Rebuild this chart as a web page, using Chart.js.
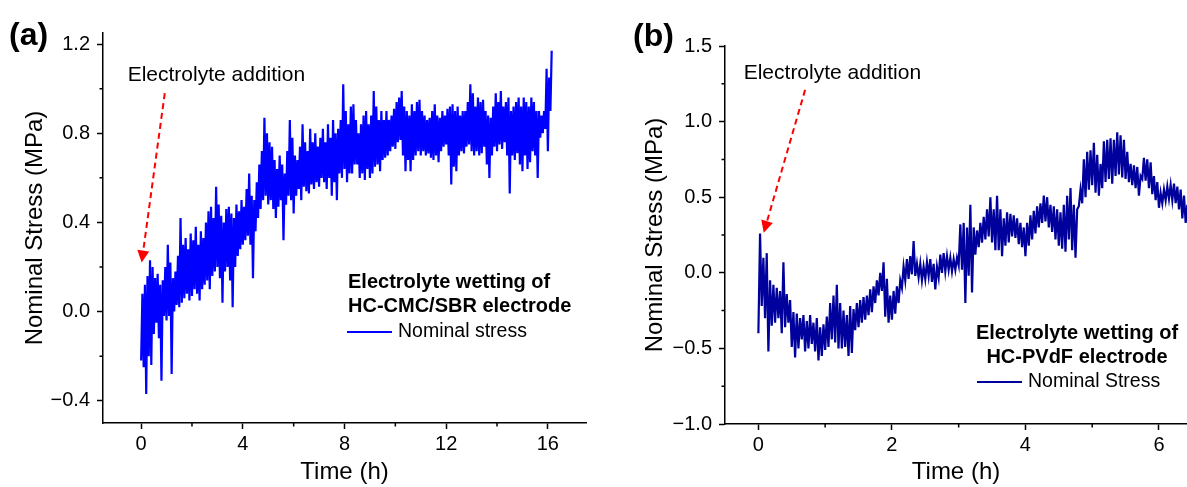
<!DOCTYPE html>
<html>
<head>
<meta charset="utf-8">
<script src="https://cdn.jsdelivr.net/npm/chart.js@4.4.1/dist/chart.umd.min.js"></script>
<style>
  html, body { margin: 0; padding: 0; background: #fff; }
  #wrap { position: relative; width: 1187px; height: 487px; overflow: hidden; }
  canvas { position: absolute; top: 0; }
  #chartA { left: 0; }
  #chartB { left: 590px; }
</style>
</head>
<body>
<div id="wrap">
  <canvas id="chartA" width="590" height="487"></canvas>
  <canvas id="chartB" width="597" height="487"></canvas>
</div>
<script>
// (a) HC-CMC/SBR: lowest / highest stress seen in each 0.1 h slot, from 0 h
const stepA = 0.1;
const lowA = [
  -0.22, -0.25, -0.37, -0.20, -0.24, -0.10, -0.05, -0.12, -0.31, -0.02,
  -0.04, -0.02, -0.28, 0.00, 0.03, 0.02, 0.04, 0.06, 0.08, 0.05,
  0.07, 0.10, 0.08, 0.05, 0.10, 0.12, 0.14, 0.10, 0.16, 0.18,
  0.20, 0.15, 0.04, 0.18, 0.20, 0.14, 0.02, 0.20, 0.25, 0.28,
  0.30, 0.32, 0.34, 0.30, 0.15, 0.36, 0.42, 0.46, 0.50, 0.52,
  0.48, 0.50, 0.46, 0.42, 0.47, 0.50, 0.32, 0.48, 0.52, 0.50,
  0.44, 0.52, 0.55, 0.50, 0.56, 0.54, 0.53, 0.57, 0.55, 0.58,
  0.56, 0.60, 0.58, 0.55, 0.60, 0.52, 0.58, 0.50, 0.62, 0.60,
  0.64, 0.58, 0.62, 0.62, 0.66, 0.66, 0.60, 0.62, 0.59, 0.64,
  0.60, 0.62, 0.65, 0.66, 0.63, 0.68, 0.69, 0.70, 0.72, 0.74,
  0.73, 0.76, 0.77, 0.70, 0.63, 0.68, 0.63, 0.68, 0.70, 0.72,
  0.70, 0.72, 0.70, 0.71, 0.69, 0.68, 0.70, 0.67, 0.72, 0.74,
  0.75, 0.70, 0.57, 0.65, 0.63, 0.70, 0.72, 0.71, 0.74, 0.75,
  0.72, 0.70, 0.72, 0.70, 0.71, 0.74, 0.66, 0.60, 0.70, 0.74,
  0.72, 0.75, 0.73, 0.76, 0.70, 0.53, 0.70, 0.68, 0.71, 0.66,
  0.63, 0.70, 0.64, 0.67, 0.72, 0.70, 0.60, 0.78, 0.80, 0.82,
  0.72, 0.90
];
const highA = [
  0.08, 0.12, 0.16, 0.23, 0.20, 0.15, 0.17, 0.12, 0.14, 0.20,
  0.30, 0.22, 0.15, 0.18, 0.25, 0.42, 0.30, 0.33, 0.28, 0.35,
  0.32, 0.38, 0.30, 0.36, 0.33, 0.40, 0.45, 0.47, 0.42, 0.56,
  0.48, 0.43, 0.40, 0.46, 0.47, 0.44, 0.42, 0.48, 0.45, 0.50,
  0.47, 0.55, 0.62, 0.52, 0.50, 0.58, 0.66, 0.72, 0.87, 0.80,
  0.76, 0.74, 0.68, 0.64, 0.70, 0.66, 0.62, 0.72, 0.86, 0.78,
  0.70, 0.68, 0.74, 0.84, 0.76, 0.72, 0.82, 0.76, 0.80, 0.74,
  0.78, 0.82, 0.76, 0.84, 0.78, 0.86, 0.80, 0.82, 0.86, 1.02,
  0.90, 0.84, 0.92, 0.93, 0.86, 0.80, 0.84, 0.88, 0.90, 0.84,
  0.88, 0.99, 0.92, 0.86, 0.90, 0.86, 0.90, 0.86, 0.88, 0.91,
  0.94, 0.96, 0.99, 0.92, 0.90, 0.88, 0.93, 0.90, 0.94, 0.95,
  0.90, 0.88, 0.86, 0.87, 0.90, 0.93, 0.88, 0.87, 0.90, 0.88,
  0.91, 0.92, 0.93, 0.90, 0.92, 0.88, 0.90, 0.90, 0.94, 1.02,
  0.98, 0.92, 0.96, 0.94, 0.95, 0.90, 0.88, 0.87, 0.92, 0.98,
  0.94, 0.99, 0.92, 0.94, 0.96, 0.90, 0.92, 0.94, 0.96, 0.92,
  0.96, 0.94, 0.92, 0.96, 0.94, 0.90, 0.90, 0.88, 0.90, 1.09,
  1.05, 1.17
];

// (b) HC-PVdF: same idea, 0.05 h slots
const stepB = 0.05;
const lowB = [
  -0.40, -0.22, -0.30, -0.52, -0.35, -0.33, -0.30, -0.40, -0.36, -0.33,
  -0.49, -0.56, -0.50, -0.44, -0.52, -0.50, -0.47, -0.52, -0.58, -0.55,
  -0.51, -0.49, -0.44, -0.46, -0.50, -0.50, -0.49, -0.55, -0.53, -0.38,
  -0.36, -0.33, -0.31, -0.28, -0.26, -0.20, -0.15, -0.12, -0.29, -0.33,
  -0.31, -0.27, -0.20, -0.10, -0.05, -0.04, -0.01, -0.02, -0.03, -0.05,
  -0.04, -0.02, -0.06, -0.11, -0.03, 0.00, 0.01, 0.02, 0.01, 0.02,
  0.05, 0.02, -0.20, -0.02, -0.13, 0.12, 0.17, 0.20, 0.22, 0.24,
  0.20, 0.15, 0.15, 0.11, 0.18, 0.20, 0.24, 0.23, 0.19, 0.17,
  0.11, 0.18, 0.22, 0.26, 0.30, 0.33, 0.34, 0.30, 0.27, 0.22,
  0.18, 0.16, 0.14, 0.22, 0.15, 0.10, 0.44, 0.46, 0.50, 0.55,
  0.58, 0.53, 0.51, 0.56, 0.60, 0.62, 0.59, 0.64, 0.65, 0.63,
  0.62, 0.60, 0.58, 0.56, 0.51, 0.62, 0.61, 0.56, 0.52, 0.48,
  0.43, 0.46, 0.48, 0.49, 0.48, 0.46, 0.42, 0.36, 0.33
];
const highB = [
  0.26, 0.10, 0.13, -0.05, -0.08, -0.10, -0.12, 0.07, -0.14, -0.18,
  -0.26, -0.27, -0.30, -0.28, -0.32, -0.28, -0.33, -0.30, -0.36, -0.34,
  -0.29, -0.20, -0.15, -0.08, -0.20, -0.25, -0.28, -0.22, -0.24, -0.20,
  -0.18, -0.16, -0.15, -0.11, -0.09, -0.05, 0.00, 0.07, -0.04, -0.15,
  -0.12, -0.09, -0.05, 0.04, 0.09, 0.11, 0.21, 0.06, 0.06, 0.04,
  0.07, 0.09, 0.06, 0.04, 0.12, 0.13, 0.11, 0.10, 0.09, 0.10,
  0.32, 0.33, 0.30, 0.45, 0.30, 0.28, 0.33, 0.37, 0.42, 0.50,
  0.42, 0.51, 0.42, 0.36, 0.40, 0.39, 0.38, 0.36, 0.33, 0.30,
  0.33, 0.38, 0.41, 0.44, 0.46, 0.51, 0.50, 0.45, 0.44, 0.42,
  0.40, 0.45, 0.51, 0.56, 0.45, 0.42, 0.55, 0.75, 0.80, 0.81,
  0.86, 0.78, 0.72, 0.87, 0.88, 0.89, 0.88, 0.93, 0.91, 0.88,
  0.80, 0.72, 0.71, 0.70, 0.64, 0.76, 0.75, 0.73, 0.64, 0.60,
  0.53, 0.55, 0.57, 0.58, 0.59, 0.57, 0.55, 0.51, 0.45
];

const xMajorA = [0, 4, 8, 12, 16], xMinorA = [2, 6, 10, 14];
const yMajorA = [-0.4, 0, 0.4, 0.8, 1.2], yMinorA = [-0.2, 0.2, 0.6, 1.0];
const xMajorB = [0, 2, 4, 6], xMinorB = [1, 3, 5];
const yMajorB = [-1, -0.5, 0, 0.5, 1, 1.5], yMinorB = [-0.75, -0.25, 0.25, 0.75, 1.25];

Chart.defaults.font.family = "'Liberation Sans', Arial, sans-serif";
Chart.defaults.color = '#000';

// zig-zag between the low and high of each slot so the trace looks as dense as the logger output
function envelope(step, low, high) {
  const pts = [];
  low.forEach((lo, i) => {
    pts.push({ x: i * step, y: lo });
    pts.push({ x: i * step + step / 2, y: high[i] });
  });
  return pts;
}

const fmt = v => (v < 0 ? '\u2212' : '') + Math.abs(v).toFixed(1);

function axisX(min, max, major, h) {
  return {
    type: 'linear', min, max,
    afterBuildTicks: s => { s.ticks = major.map(v => ({ value: v })); },
    afterFit: s => { s.height = h; },
    grid: { drawOnChartArea: false, tickLength: 6, tickWidth: 1.5, tickColor: '#000' },
    border: { color: '#000', width: 1.5 },
    ticks: { font: { size: 20 }, padding: 3, maxRotation: 0, autoSkip: false, callback: v => String(v) },
    title: { display: true, text: 'Time (h)', font: { size: 24 }, padding: { top: 0, bottom: 0 } }
  };
}

function axisY(min, max, major, w, titlePad) {
  return {
    type: 'linear', min, max,
    afterBuildTicks: s => { s.ticks = major.map(v => ({ value: v })); },
    afterFit: s => { s.width = w; },
    grid: { drawOnChartArea: false, tickLength: 6, tickWidth: 1.5, tickColor: '#000' },
    border: { color: '#000', width: 1.5 },
    ticks: { font: { size: 20 }, padding: 7, autoSkip: false, callback: fmt },
    title: { display: true, text: 'Nominal Stress (MPa)', font: { size: 24 }, padding: { top: titlePad, bottom: 0 } }
  };
}

// minor ticks, the red arrow note, the boxed legend text and the panel letter
const decor = {
  id: 'decor',
  afterDraw(chart, args, o) {
    const { ctx, chartArea: ca, scales: { x, y } } = chart;
    ctx.save();
    ctx.strokeStyle = '#000';
    ctx.lineWidth = 1.5;
    ctx.beginPath();
    o.xMinor.forEach(v => {
      const px = x.getPixelForValue(v);
      ctx.moveTo(px, ca.bottom); ctx.lineTo(px, ca.bottom + 3.5);
    });
    o.yMinor.forEach(v => {
      const py = y.getPixelForValue(v);
      ctx.moveTo(ca.left, py); ctx.lineTo(ca.left - 3.5, py);
    });
    ctx.stroke();

    // note + dashed arrow
    ctx.font = "21px 'Liberation Sans', Arial, sans-serif";
    ctx.fillStyle = '#000';
    ctx.textBaseline = 'middle';
    ctx.textAlign = 'left';
    ctx.fillText('Electrolyte addition', x.getPixelForValue(o.note.x), y.getPixelForValue(o.note.y));
    const x0 = x.getPixelForValue(o.arrow.from[0]), y0 = y.getPixelForValue(o.arrow.from[1]);
    const x1 = x.getPixelForValue(o.arrow.to[0]), y1 = y.getPixelForValue(o.arrow.to[1]);
    const ang = Math.atan2(y1 - y0, x1 - x0), head = 12;
    const bx = x1 - head * Math.cos(ang), by = y1 - head * Math.sin(ang);
    ctx.strokeStyle = '#ff0000';
    ctx.lineWidth = 2;
    ctx.setLineDash([6, 4]);
    ctx.beginPath(); ctx.moveTo(x0, y0); ctx.lineTo(bx, by); ctx.stroke();
    ctx.setLineDash([]);
    ctx.fillStyle = '#ff0000';
    ctx.beginPath();
    ctx.moveTo(x1, y1);
    ctx.lineTo(bx + 6 * Math.sin(ang), by - 6 * Math.cos(ang));
    ctx.lineTo(bx - 6 * Math.sin(ang), by + 6 * Math.cos(ang));
    ctx.closePath(); ctx.fill();

    // legend
    const L = o.legend;
    ctx.fillStyle = '#000';
    ctx.font = "bold 20px 'Liberation Sans', Arial, sans-serif";
    ctx.textAlign = L.align;
    ctx.fillText(L.lines[0], L.x, L.y);
    ctx.fillText(L.lines[1], L.x, L.y + 24);
    ctx.strokeStyle = o.color;
    ctx.lineWidth = 2;
    ctx.beginPath(); ctx.moveTo(L.sx, L.sy); ctx.lineTo(L.sx + 45, L.sy); ctx.stroke();
    ctx.font = "19.5px 'Liberation Sans', Arial, sans-serif";
    ctx.textAlign = 'left';
    ctx.fillText(L.label, L.sx + 51, L.sy);

    // panel letter
    ctx.font = "bold 32px 'Liberation Sans', Arial, sans-serif";
    ctx.fillText(o.letter.text, o.letter.x, o.letter.y);
    ctx.restore();
  }
};

const colorA = '#0000ff', colorB = '#00009c';

new Chart(document.getElementById('chartA'), {
  type: 'line',
  data: {
    datasets: [{
      label: 'Nominal stress',
      data: envelope(stepA, lowA, highA),
      borderColor: colorA, borderWidth: 2.2, pointRadius: 0, tension: 0, fill: false
    }]
  },
  options: {
    responsive: false, animation: false, parsing: false,
    layout: { padding: { left: 0, right: 4, top: 33, bottom: 0 } },
    scales: { x: axisX(-1.5, 17.5, xMajorA, 64), y: axisY(-0.5, 1.25, yMajorA, 103, 21) },
    plugins: {
      legend: { display: false }, tooltip: { enabled: false },
      decor: {
        xMinor: xMinorA, yMinor: yMinorA, color: colorA,
        note: { x: -0.53, y: 1.06 },
        arrow: { from: [0.93, 0.98], to: [0.02, 0.22] },
        legend: { align: 'left', x: 348, y: 282, lines: ['Electrolyte wetting of', 'HC-CMC/SBR electrode'], sx: 347, sy: 332, label: 'Nominal stress' },
        letter: { text: '(a)', x: 9, y: 36 }
      }
    }
  },
  plugins: [decor]
});

new Chart(document.getElementById('chartB'), {
  type: 'line',
  data: {
    datasets: [{
      label: 'Nominal Stress',
      data: envelope(stepB, lowB, highB),
      borderColor: colorB, borderWidth: 2.2, pointRadius: 0, tension: 0, fill: false
    }]
  },
  options: {
    responsive: false, animation: false, parsing: false,
    layout: { padding: { left: 0, right: 0, top: 46, bottom: 0 } },
    scales: { x: axisX(-0.5, 6.42, xMajorB, 63), y: axisY(-1, 1.5, yMajorB, 135, 51) },
    plugins: {
      legend: { display: false }, tooltip: { enabled: false },
      decor: {
        xMinor: xMinorB, yMinor: yMinorB, color: colorB,
        note: { x: -0.22, y: 1.32 },
        arrow: { from: [0.70, 1.21], to: [0.08, 0.265] },
        legend: { align: 'center', x: 487, y: 333, lines: ['Electrolyte wetting of', 'HC-PVdF electrode'], sx: 387, sy: 382, label: 'Nominal Stress' },
        letter: { text: '(b)', x: 43, y: 37 }
      }
    }
  },
  plugins: [decor]
});
</script>
</body>
</html>
